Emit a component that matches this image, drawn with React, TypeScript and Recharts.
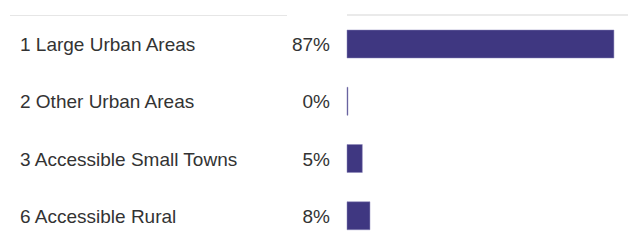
import React from "react";
import { BarChart, Bar, XAxis, YAxis } from "recharts";

const categories = [
  "1 Large Urban Areas",
  "2 Other Urban Areas",
  "3 Accessible Small Towns",
  "6 Accessible Rural",
];
const values = [87.2, 0.3, 5.0, 7.5];
const valueLabels = ["87%", "0%", "5%", "8%"];

const data = categories.map((name, i) => ({ name, value: values[i], label: valueLabels[i] }));

const FONT = '"Liberation Sans", Arial, Helvetica, sans-serif';

const Tick = (props: any) => {
  const { y, payload, index } = props;
  return (
    <g>
      <text x={20} y={y + 7.5} fontSize={19} fontFamily={FONT} fill="#333333" textAnchor="start">
        {payload.value}
      </text>
      <text x={330} y={y + 7.5} fontSize={19} fontFamily={FONT} fill="#333333" textAnchor="end">
        {data[index] ? data[index].label : ""}
      </text>
    </g>
  );
};

export default function App() {
  return (
    <div style={{ position: "relative", width: 629, height: 240, overflow: "hidden", background: "#fff" }}>
      <style>{"body{margin:0}"}</style>
      <div style={{ position: "absolute", left: 10, top: 14.5, width: 277, height: 1.5, background: "#e6e6e6" }} />
      <BarChart
        width={629}
        height={244}
        data={data}
        layout="vertical"
        margin={{ top: 14, right: 1, bottom: 0, left: 0 }}
        barCategoryGap={0}
      >
        <XAxis
          type="number"
          orientation="top"
          domain={[0, 91.8]}
          height={1}
          tick={false}
          tickLine={false}
          axisLine={{ stroke: "#e3e3e3", strokeWidth: 1.5 }}
        />
        <YAxis
          type="category"
          dataKey="name"
          width={347}
          axisLine={false}
          tickLine={false}
          tick={<Tick />}
          interval={0}
        />
        <Bar dataKey="value" fill="#3f3781" stroke="#8a85b8" strokeWidth={0.5} barSize={28} isAnimationActive={false} />
      </BarChart>
    </div>
  );
}
